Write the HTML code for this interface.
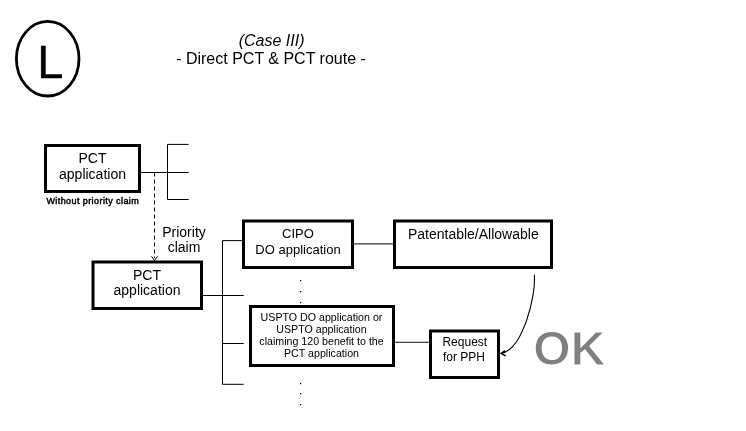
<!DOCTYPE html>
<html><head><meta charset="utf-8">
<style>
html,body{margin:0;padding:0;background:#fff;}
body{width:746px;height:431px;overflow:hidden;position:relative;}
svg{position:absolute;left:0;top:0;will-change:transform;}
text{font-family:"Liberation Sans",sans-serif;fill:#000;}
</style></head>
<body>
<svg width="746" height="431" viewBox="0 0 746 431">
<!-- circle L -->
<ellipse cx="47.7" cy="58.7" rx="31.3" ry="37.3" fill="none" stroke="#000" stroke-width="2.8"/>
<text x="37.3" y="77.7" font-size="47" stroke="#000" stroke-width="0.4">L</text>
<!-- title -->
<text x="271.6" y="46.2" font-size="16" font-style="italic" text-anchor="middle">(Case III)</text>
<text x="271" y="63.6" font-size="16" text-anchor="middle">- Direct PCT &amp; PCT route -</text>

<g fill="none" stroke="#000">
 <!-- boxes -->
 <rect x="45.5" y="145.5" width="94" height="46" stroke-width="3"/>
 <rect x="93" y="262" width="108.5" height="46.5" stroke-width="3"/>
 <rect x="243.5" y="221" width="109" height="46.5" stroke-width="3"/>
 <rect x="394.5" y="221" width="157" height="46.5" stroke-width="3"/>
 <rect x="250.5" y="306.5" width="143" height="59" stroke-width="3"/>
 <rect x="430.5" y="331" width="68" height="46.5" stroke-width="3"/>
 <!-- lines -->
 <path d="M141 172.5H188.6M167.5 144.4V199.5M167.5 144.4H188.6M167.5 199.5H188.6" stroke-width="1"/>
 <path d="M154.5 172.5V258" stroke-width="1" stroke-dasharray="4 3"/>
 <path d="M151.5 256.3L154.5 260.5L157.5 256.3" stroke-width="1"/>
 <path d="M203 295.5H243.7M222.5 240.6V384.3M222.5 240.6H242M222.5 343.5H243.7M222.5 384.3H243.7" stroke-width="1"/>
 <path d="M354 243.9H393" stroke-width="1"/>
 <path d="M395 342.4H429" stroke-width="1.4" stroke="#444"/>
 <path d="M534.3 274.8C536.3 294.8 523.1 349.4 501.1 353.4" stroke-width="1.1"/>
 <path d="M505.1 350.6L501.1 353.4L505.7 355.9" stroke-width="1.4"/>
</g>
<!-- dots -->
<g fill="#000">
 <rect x="300" y="280" width="1.2" height="1.2"/>
 <rect x="300" y="291" width="1.2" height="1.2"/>
 <rect x="300" y="302" width="1.2" height="1.2"/>
 <rect x="300" y="383" width="1.2" height="1.2"/>
 <rect x="300" y="393" width="1.2" height="1.2"/>
 <rect x="300" y="404" width="1.2" height="1.2"/>
</g>
<!-- box texts -->
<text x="92.5" y="162.9" font-size="14" text-anchor="middle">PCT</text>
<text x="92.5" y="179" font-size="14" text-anchor="middle">application</text>
<text x="92.8" y="204.2" font-size="9" text-anchor="middle" letter-spacing="0.42" style="fill:#000;stroke:#000;stroke-width:0.45">Without priority claim</text>
<text x="184" y="237" font-size="14" text-anchor="middle">Priority</text>
<text x="184" y="251.6" font-size="14" text-anchor="middle">claim</text>
<text x="147" y="280" font-size="14" text-anchor="middle">PCT</text>
<text x="147" y="295" font-size="14" text-anchor="middle">application</text>
<text x="298" y="238" font-size="13" text-anchor="middle">CIPO</text>
<text x="298" y="253.8" font-size="13" text-anchor="middle">DO application</text>
<text x="473.3" y="239" font-size="14" text-anchor="middle">Patentable/Allowable</text>
<text x="321.5" y="321" font-size="10.67" text-anchor="middle">USPTO DO application or</text>
<text x="321.5" y="332.8" font-size="10.67" text-anchor="middle">USPTO application</text>
<text x="321.5" y="344.9" font-size="10.67" text-anchor="middle">claiming 120 benefit to the</text>
<text x="321.5" y="356.5" font-size="10.67" text-anchor="middle">PCT application</text>
<text x="464.8" y="346.3" font-size="12" text-anchor="middle">Request</text>
<text x="463.9" y="360.8" font-size="12" text-anchor="middle">for PPH</text>
<text x="569.3" y="364.9" font-size="48" font-weight="bold" text-anchor="middle" style="fill:#808080;stroke:#fff;stroke-width:1">OK</text>
</svg>
</body></html>
